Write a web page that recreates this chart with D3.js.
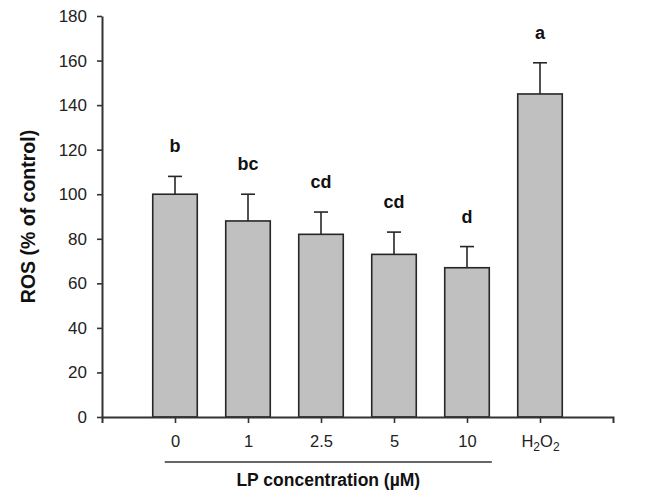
<!DOCTYPE html>
<html>
<head>
<meta charset="utf-8">
<script src="https://cdn.jsdelivr.net/npm/d3@7"></script>
<style>
  body { margin: 0; background: #fff; }
  text { font-family: "Liberation Sans", Arial, sans-serif; }
</style>
</head>
<body>
<svg id="chart"></svg>
<script>
// Data
const categories = ["0", "1", "2.5", "5", "10", "H2O2"];
const rosValues = [100, 88, 82, 73, 67, 145];
const rosErrors = [8, 12, 10, 10, 9.5, 14];
const sigLetters = ["b", "bc", "cd", "cd", "d", "a"];
const yTicks = [0, 20, 40, 60, 80, 100, 120, 140, 160, 180];

// Dimensions
const width = 658, height = 492;
const margin = { top: 16, right: 45, bottom: 75, left: 102 };
const plotW = width - margin.left - margin.right;
const plotH = height - margin.top - margin.bottom;

const svg = d3.select("#chart")
    .attr("width", width)
    .attr("height", height);

const g = svg.append("g")
    .attr("transform", `translate(${margin.left},${margin.top})`);

// Scales
const x = d3.scalePoint()
    .domain(categories)
    .range([0, plotW])
    .padding(1);
const barW = x.step() * 0.61;

const y = d3.scaleLinear()
    .domain([0, 180])
    .range([plotH, 0]);

// Bars
g.selectAll(".bar")
    .data(rosValues)
    .enter()
    .append("rect")
    .attr("class", "bar")
    .attr("x", (d, i) => x(categories[i]) - barW / 2)
    .attr("y", d => y(d))
    .attr("width", barW)
    .attr("height", d => y(0) - y(d))
    .style("fill", "#c0c0c0")
    .style("stroke", "#262626")
    .style("stroke-width", 1.6);

// Error bars (upper only)
g.selectAll(".err")
    .data(rosValues)
    .enter()
    .append("line")
    .attr("x1", (d, i) => x(categories[i]))
    .attr("x2", (d, i) => x(categories[i]))
    .attr("y1", d => y(d))
    .attr("y2", (d, i) => y(d + rosErrors[i]))
    .style("stroke", "#262626")
    .style("stroke-width", 1.6);

g.selectAll(".cap")
    .data(rosValues)
    .enter()
    .append("line")
    .attr("x1", (d, i) => x(categories[i]) - 7)
    .attr("x2", (d, i) => x(categories[i]) + 7)
    .attr("y1", (d, i) => y(d + rosErrors[i]))
    .attr("y2", (d, i) => y(d + rosErrors[i]))
    .style("stroke", "#262626")
    .style("stroke-width", 1.6);

// Significance letters
g.selectAll(".sig")
    .data(sigLetters)
    .enter()
    .append("text")
    .attr("x", (d, i) => x(categories[i]))
    .attr("y", (d, i) => y(rosValues[i] + rosErrors[i]) - 24)
    .style("text-anchor", "middle")
    .style("font-size", "18px")
    .style("font-weight", "bold")
    .style("fill", "#111")
    .text(d => d);

// Y axis
const yAxis = g.append("g")
    .call(d3.axisLeft(y).tickValues(yTicks).tickSize(5).tickSizeOuter(0).tickPadding(10));
yAxis.select(".domain").style("stroke", "#333").style("stroke-width", 2);
yAxis.selectAll(".tick line").style("stroke", "#333").style("stroke-width", 1.6);
yAxis.selectAll(".tick text")
    .style("font-size", "17px")
    .style("fill", "#222")
    .style("font-family", "'Liberation Sans', Arial, sans-serif");

// X axis
const xAxis = g.append("g")
    .attr("transform", `translate(0,${plotH})`)
    .call(d3.axisBottom(x).tickSize(6).tickSizeOuter(6).tickPadding(12).tickFormat(""));
xAxis.select(".domain").style("stroke", "#333").style("stroke-width", 2);
xAxis.selectAll(".tick line").style("stroke", "#333").style("stroke-width", 1.6);

// X tick labels (H2O2 with subscripts)
xAxis.selectAll(".tick").each(function(d) {
    const t = d3.select(this).append("text")
        .attr("y", 30)
        .style("text-anchor", "middle")
        .style("font-size", "16.5px")
        .style("fill", "#222")
        .style("font-family", "'Liberation Sans', Arial, sans-serif");
    if (d === "H2O2") {
        t.append("tspan").text("H");
        t.append("tspan").attr("dy", 4).style("font-size", "12px").text("2");
        t.append("tspan").attr("dy", -4).text("O");
        t.append("tspan").attr("dy", 4).style("font-size", "12px").text("2");
    } else {
        t.text(d);
    }
});

// Bracket line under the LP concentrations
const bracketL = x("0") - x.step() * 0.14;
const bracketR = x("10") + x.step() * 0.34;
g.append("line")
    .attr("x1", bracketL)
    .attr("x2", bracketR)
    .attr("y1", plotH + 45)
    .attr("y2", plotH + 45)
    .style("stroke", "#333")
    .style("stroke-width", 1.6);

// Axis labels
g.append("text")
    .attr("x", (bracketL + bracketR) / 2)
    .attr("y", plotH + 69)
    .style("text-anchor", "middle")
    .style("font-size", "17.5px")
    .style("font-weight", "bold")
    .style("fill", "#111")
    .text("LP concentration (\u00b5M)");

g.append("text")
    .attr("transform", "rotate(-90)")
    .attr("x", -(y(0) + y(180)) / 2 + 0)
    .attr("y", 35 - margin.left)
    .style("text-anchor", "middle")
    .style("font-size", "19.5px")
    .style("font-weight", "bold")
    .style("fill", "#111")
    .text("ROS (% of control)");
</script>
</body>
</html>
